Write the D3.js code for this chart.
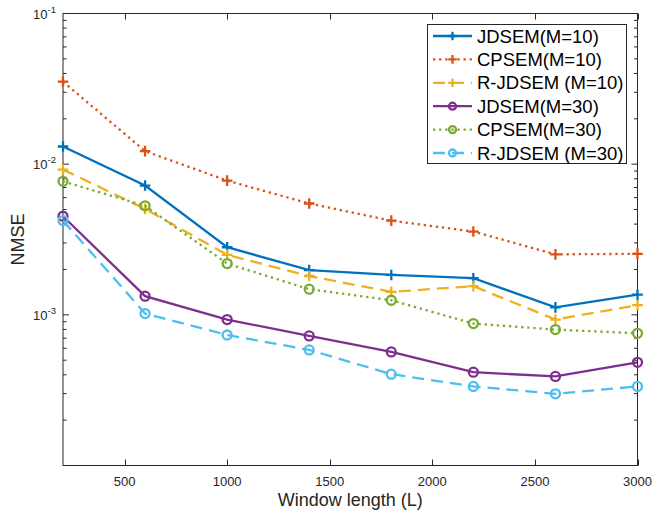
<!DOCTYPE html>
<html><head><meta charset="utf-8">
<script src="https://cdn.jsdelivr.net/npm/d3@7"></script>
<style>body{margin:0;background:#fff;} svg{display:block;font-family:"Liberation Sans",Arial,sans-serif;}</style>
</head><body><svg id="c" width="652" height="510"></svg>
<script>
const windowLengths = [200, 600, 1000, 1400, 1800, 2200, 2600, 3000];
const seriesNames = ["JDSEM(M=10)", "CPSEM(M=10)", "R-JDSEM (M=10)", "JDSEM(M=30)", "CPSEM(M=30)", "R-JDSEM (M=30)"];
const jdsem10  = [0.0131, 0.00721, 0.00281, 0.00198, 0.00184, 0.00175, 0.00112, 0.00136];
const cpsem10  = [0.0353, 0.0122, 0.00778, 0.00548, 0.00422, 0.00357, 0.00252, 0.00254];
const rjdsem10 = [0.0092, 0.00505, 0.00250, 0.00181, 0.00142, 0.00155, 0.00093, 0.00116];
const jdsem30  = [0.00451, 0.00133, 0.00093, 0.000724, 0.000567, 0.000416, 0.00039, 0.000484];
const cpsem30  = [0.00769, 0.00529, 0.00219, 0.00148, 0.00125, 0.000875, 0.000798, 0.000754];
const rjdsem30 = [0.00422, 0.00102, 0.000735, 0.000585, 0.000404, 0.000335, 0.000299, 0.000335];
const xTicks = [500, 1000, 1500, 2000, 2500, 3000];
const yTicks = [1e-3, 1e-2, 1e-1];
const yTickLabels = ["-3", "-2", "-1"];

const colors = ["#0072BD", "#D95319", "#EDB120", "#7E2F8E", "#77AC30", "#4DBEEE"];
const dashes = [null, "2.3,3.8", "12,7", null, "2.3,3.8", "12,7"];
const markers = ["plus", "plus", "plus", "circle", "circle", "circle"];
const allValues = [jdsem10, cpsem10, rjdsem10, jdsem30, cpsem30, rjdsem30];

const svg = d3.select("#c");
const L = 63, R = 637.5, T = 13.5, B = 465.5;
const x = d3.scaleLinear().domain([200, 3000]).range([L, R]);
const y = d3.scaleLog().domain([1e-4, 1e-1]).range([B, T]);
const axisCol = "#262626";
const LW = 2.3;

const minor = [];
for (let e = -4; e < -1; e++) for (let m = 2; m <= 9; m++) minor.push(m * Math.pow(10, e));

const t = svg.append("g").attr("stroke", axisCol).attr("stroke-width", 1);
xTicks.forEach(v => {
  const px = Math.round(x(v)) + 0.5;
  t.append("line").attr("x1", px).attr("x2", px).attr("y1", B).attr("y2", B - 6);
  t.append("line").attr("x1", px).attr("x2", px).attr("y1", T).attr("y2", T + 6);
});
yTicks.forEach(v => {
  const py = y(v);
  t.append("line").attr("x1", L).attr("x2", L + 6).attr("y1", py).attr("y2", py);
  t.append("line").attr("x1", R).attr("x2", R - 6).attr("y1", py).attr("y2", py);
});
minor.forEach(v => {
  const py = y(v);
  t.append("line").attr("x1", L).attr("x2", L + 3.5).attr("y1", py).attr("y2", py);
  t.append("line").attr("x1", R).attr("x2", R - 3.5).attr("y1", py).attr("y2", py);
});
t.append("rect").attr("x", L).attr("y", T).attr("width", R - L).attr("height", B - T).attr("fill", "none");

const tl = svg.append("g").attr("fill", axisCol).attr("font-size", 13);
xTicks.forEach(v => {
  tl.append("text").attr("x", x(v)).attr("y", B + 20).attr("text-anchor", "middle").text(v);
});
yTicks.forEach((v, i) => {
  const tx = tl.append("text").attr("x", L - 7).attr("y", y(v) + 5).attr("text-anchor", "end");
  tx.append("tspan").text("10");
  tx.append("tspan").attr("font-size", 9.5).attr("dy", -6).text(yTickLabels[i]);
});

svg.append("text").attr("x", (L + R) / 2).attr("y", 506).attr("text-anchor", "middle")
  .attr("font-size", 18).attr("fill", axisCol).text("Window length (L)");
svg.append("text").attr("transform", `translate(24,${(T + B) / 2}) rotate(-90)`).attr("text-anchor", "middle")
  .attr("font-size", 18).attr("fill", axisCol).text("NMSE");

function drawMarker(sel, type, cx, cy, col, sz) {
  if (type === "plus") {
    sel.append("path").attr("d", `M${cx - sz},${cy}H${cx + sz}M${cx},${cy - sz}V${cy + sz}`)
      .attr("stroke", col).attr("stroke-width", LW).attr("fill", "none");
  } else {
    sel.append("circle").attr("cx", cx).attr("cy", cy).attr("r", sz - 0.8)
      .attr("stroke", col).attr("stroke-width", LW).attr("fill", "none");
  }
}

const plot = svg.append("g");
const line = d3.line().x((d, i) => x(windowLengths[i])).y(d => y(d));
allValues.forEach((vals, s) => {
  const p = plot.append("path").datum(vals).attr("d", line).attr("fill", "none")
    .attr("stroke", colors[s]).attr("stroke-width", LW);
  if (dashes[s]) p.attr("stroke-dasharray", dashes[s]);
  vals.forEach((v, i) => drawMarker(plot, markers[s], x(windowLengths[i]), y(v), colors[s], 5.3));
});

const lg = svg.append("g");
const lx = 427.5, ly = 24.5, lw = 199, lh = 139;
lg.append("rect").attr("x", lx).attr("y", ly).attr("width", lw).attr("height", lh)
  .attr("fill", "#fff").attr("stroke", axisCol).attr("stroke-width", 1);
seriesNames.forEach((name, s) => {
  const cy = 36 + s * 23.4;
  const ln = lg.append("line").attr("x1", 433).attr("x2", 472).attr("y1", cy).attr("y2", cy)
    .attr("stroke", colors[s]).attr("stroke-width", LW);
  if (dashes[s]) ln.attr("stroke-dasharray", dashes[s]);
  drawMarker(lg, markers[s], 452.5, cy, colors[s], 4.3);
  lg.append("text").attr("x", 477).attr("y", cy + 6.5).attr("font-size", 18.5).attr("fill", "#000").text(name);
});
</script></body></html>
